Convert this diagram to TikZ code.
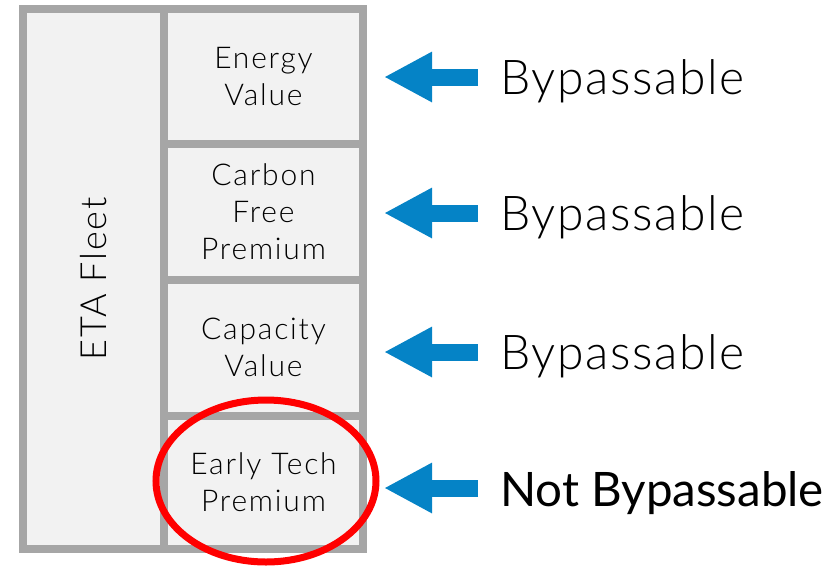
\documentclass[tikz,border=0pt]{standalone}
\usepackage{fontspec}
\setmainfont{Lato Light}
\newfontfamily\medfont{Lato}
\newfontfamily\celltrack{Lato Light}[LetterSpace=6]
\newfontfamily\lbltrack{Lato Light}[LetterSpace=3.5]
\newfontfamily\fleettrack{Lato Light}[LetterSpace=5]
\usetikzlibrary{arrows.meta,shapes.geometric}
\definecolor{frame}{HTML}{A6A6A6}
\definecolor{cellfill}{HTML}{F2F2F2}
\definecolor{arrowblue}{HTML}{0583C6}
\tikzset{
  cell/.style={draw=frame, fill=cellfill, line width=8pt, outer sep=0pt, inner sep=0pt,
    minimum width=199pt, align=center, font=\celltrack\fontsize{30}{37}\selectfont},
  lbl/.style={anchor=base west, inner sep=0pt, font=\lbltrack\fontsize{48}{50}\selectfont},
  pointer/.style={arrowblue, line width=17pt, -{Triangle[length=48pt,width=47pt]},
    shorten <=22pt, shorten >=21pt},
}
\begin{document}
\begin{tikzpicture}[x=1pt,y=-1pt]
\useasboundingbox (0,0) rectangle (836,566);
% left column
\node[cell, minimum width=141.5pt, minimum height=540pt] (fleet) at (93.25,279) {};
\node[rotate=90, font=\fleettrack\fontsize{36}{40}\selectfont] (fleettxt) at (fleet.center) {ETA Fleet};
% right column cells
\node[cell, minimum height=135pt] (c1) at (263.5,76.5) {Energy\\Value};
\node[cell, minimum height=135.5pt] (c2) at (263.5,211.75) {Carbon\\Free\\Premium};
\node[cell, minimum height=136pt] (c3) at (263.5,347.5) {Capacity\\Value};
\node[cell, minimum height=133.5pt] (c4) at (263.5,482.25) {Early Tech\\Premium};
% highlight ring
\node[ellipse, draw=red, line width=7pt, minimum width=220pt, minimum height=162pt, inner sep=0pt] (ring) at (266,481) {};
% rows
\coordinate (r1) at (0,77);
\coordinate (r2) at (0,213);
\coordinate (r3) at (0,352);
\coordinate (r4) at (0,488);
\node[lbl] (l1) at (500,94) {Bypassable};
\node[lbl] (l2) at (500,230) {Bypassable};
\node[lbl] (l3) at (500,369) {Bypassable};
\node[lbl, font=\medfont\fontsize{47.5}{50}\selectfont] (l4) at (500,506) {Not Bypassable};
\draw[pointer] (r1 -| l1.west) -- (r1 -| c1.east);
\draw[pointer] (r2 -| l2.west) -- (r2 -| c2.east);
\draw[pointer] (r3 -| l3.west) -- (r3 -| c3.east);
\draw[pointer] (r4 -| l4.west) -- (r4 -| c4.east);
\end{tikzpicture}
\end{document}
